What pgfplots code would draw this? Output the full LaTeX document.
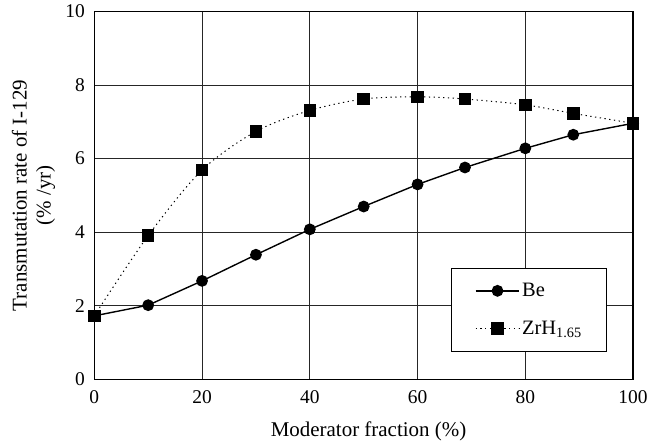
\documentclass[border={10pt 1pt 0pt 1.5pt}]{standalone}
\usepackage{pgfplots}
\pgfplotsset{compat=1.18}
\usepackage{fontspec}
\setmainfont{Liberation Serif}
\begin{document}
\begin{tikzpicture}
\begin{axis}[
  width=540pt, height=369pt, scale only axis,
  xmin=0, xmax=100, ymin=0, ymax=10,
  xtick={0,20,...,100}, ytick={0,2,...,10},
  grid=major, major grid style={black!85, line width=1pt},
  axis line style={black, line width=1.4pt},
  major tick length=0pt,
  tick label style={font=\fontsize{19.5}{22}\selectfont},
  yticklabel style={xshift=-6pt},
  xticklabel style={yshift=-7pt},
  /pgf/number format/assume math mode=true,
  xlabel={Moderator fraction (\%)},
  ylabel={Transmutation rate of I-129\\(\% /yr)},
  ylabel style={align=center, font=\fontsize{21}{24}\selectfont, inner sep=2pt,
    at={(axis description cs:-0.0685,0.5)}, anchor=south},
  xlabel style={font=\fontsize{21}{24}\selectfont, inner sep=2pt,
    at={(axis description cs:0.509,-0.108)}, anchor=north},
  legend style={at={(rel axis cs:0.952,0.076)}, anchor=south east, draw=black, line width=1pt, fill=white,
    font=\fontsize{20.5}{23}\selectfont, inner xsep=23pt, inner ysep=13pt, row sep=19pt,
    legend cell align=left},
  legend image code/.code={
    \draw[mark repeat=2,mark phase=2] plot coordinates {(0pt,0pt) (22pt,0pt) (44pt,0pt)};},
]
\addplot[black, line width=1.4pt, mark=*, mark size=5.2pt, mark options={solid}] coordinates {
(0,1.73) (10,2.02) (20,2.68) (30,3.39) (40,4.08) (50,4.70) (60,5.30) (68.8,5.76) (80,6.28) (88.9,6.65) (100,6.96)};
\addlegendentry{Be}
\addplot[black, line width=1pt, dash pattern=on 1.3pt off 3.5pt, smooth, mark=square*, mark size=5.8pt, mark options={solid}] coordinates {
(0,1.73) (10,3.91) (20,5.69) (30,6.74) (40,7.31) (50,7.62) (60,7.68) (68.8,7.62) (80,7.46) (88.9,7.23) (100,6.96)};
\addlegendentry{ZrH\textsubscript{1.65}}
\end{axis}
\end{tikzpicture}
\end{document}
